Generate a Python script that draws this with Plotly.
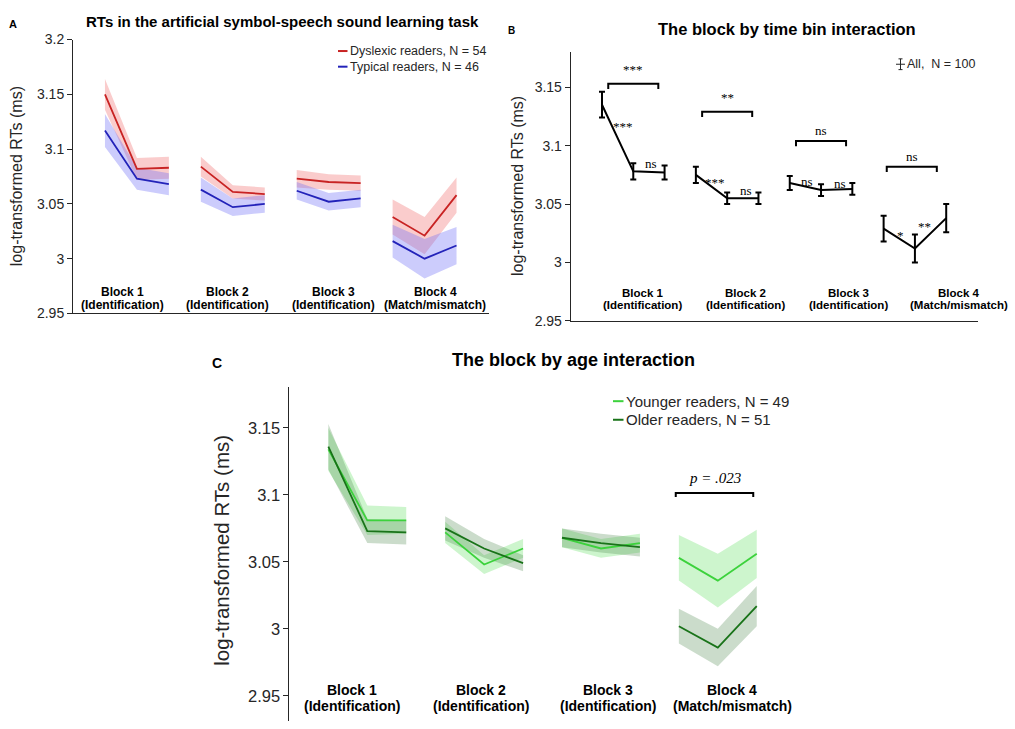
import plotly.graph_objects as go

W, H = 1015, 729

# ---------------- data ----------------
x_pos = [1, 2, 3, 4, 5, 6, 7, 8, 9, 10, 11, 12]
block_groups = [[0, 1, 2], [3, 4, 5], [6, 7, 8], [9, 10, 11]]
block_titles = ["Block 1", "Block 2", "Block 3", "Block 4"]
block_subs = ["(Identification)", "(Identification)", "(Identification)", "(Match/mismatch)"]

# Panel A
dys_mean = [3.150, 3.082, 3.083, 3.084, 3.061, 3.059, 3.073, 3.070, 3.069, 3.038, 3.021, 3.058]
dys_se = [0.014, 0.010, 0.010, 0.009, 0.006, 0.006, 0.008, 0.007, 0.007, 0.016, 0.017, 0.016]
typ_mean = [3.117, 3.073, 3.068, 3.063, 3.047, 3.050, 3.062, 3.052, 3.055, 3.016, 3.000, 3.012]
typ_se = [0.015, 0.010, 0.010, 0.011, 0.008, 0.008, 0.008, 0.008, 0.008, 0.015, 0.018, 0.017]

# Panel B
all_mean = [3.135, 3.078, 3.077, 3.075, 3.055, 3.055, 3.068, 3.062, 3.063, 3.029, 3.012, 3.038]
all_se = [0.011, 0.007, 0.006, 0.007, 0.005, 0.005, 0.006, 0.005, 0.005, 0.011, 0.012, 0.012]
brk_x0 = [1.2, 4.2, 7.2, 10.1]
brk_x1 = [2.8, 5.8, 8.8, 11.7]
brk_y = [3.153, 3.129, 3.104, 3.082]
brk_txt = ["***", "**", "ns", "ns"]
pair_x = [1.68, 2.58, 4.62, 5.59, 7.55, 8.6, 10.54, 11.31]
pair_y = [3.1197, 3.085, 3.0717, 3.0614, 3.0697, 3.0675, 3.026, 3.0336]
pair_txt = ["***", "ns", "***", "ns", "ns", "ns", "*", "**"]

# Panel C
young_mean = [3.134, 3.081, 3.081, 3.072, 3.048, 3.060, 3.068, 3.060, 3.064, 3.053, 3.036, 3.056]
young_se = [0.016, 0.011, 0.010, 0.008, 0.007, 0.007, 0.007, 0.007, 0.007, 0.017, 0.020, 0.018]
old_mean = [3.136, 3.073, 3.072, 3.075, 3.060, 3.049, 3.068, 3.064, 3.061, 3.002, 2.986, 3.017]
old_se = [0.017, 0.009, 0.009, 0.009, 0.007, 0.006, 0.007, 0.007, 0.007, 0.013, 0.014, 0.015]
c_brk = (9.92, 11.91, 3.1015)
c_brk_txt = "p = .023"

yt_A = [2.95, 3.0, 3.05, 3.1, 3.15, 3.2]
yt_A_txt = ["2.95", "3", "3.05", "3.1", "3.15", "3.2"]
yt_BC = [2.95, 3.0, 3.05, 3.1, 3.15]
yt_BC_txt = ["2.95", "3", "3.05", "3.1", "3.15"]

# ---------------- styles ----------------
SANS = "Liberation Sans, Arial, Helvetica, sans-serif"
SERIF = "Liberation Serif, Times New Roman, serif"
AXC = "#262626"
red_line, red_fill = "rgb(200,35,35)", "rgba(242,110,110,0.35)"
blue_line, blue_fill = "rgb(35,35,185)", "rgba(110,110,245,0.35)"
young_line, young_fill = "rgb(60,210,60)", "rgba(100,225,100,0.32)"
old_line, old_fill = "rgb(25,115,25)", "rgba(70,130,70,0.28)"


def px(x):
    return x / W


def py(y):
    return 1 - y / H


fig = go.Figure()


def add_band(xa, ya, mean, se, fill):
    for g in block_groups:
        xs = [x_pos[i] for i in g]
        up = [mean[i] + se[i] for i in g]
        lo = [mean[i] - se[i] for i in g]
        fig.add_trace(go.Scatter(x=xs + xs[::-1], y=up + lo[::-1], fill="toself",
                                 fillcolor=fill, line=dict(width=0), mode="lines",
                                 hoverinfo="skip", showlegend=False, xaxis=xa, yaxis=ya))


def add_line(xa, ya, mean, color, width=1.8):
    for g in block_groups:
        fig.add_trace(go.Scatter(x=[x_pos[i] for i in g], y=[mean[i] for i in g],
                                 mode="lines", line=dict(color=color, width=width),
                                 showlegend=False, xaxis=xa, yaxis=ya))


# Panel A
add_band("x", "y", dys_mean, dys_se, red_fill)
add_band("x", "y", typ_mean, typ_se, blue_fill)
add_line("x", "y", dys_mean, red_line)
add_line("x", "y", typ_mean, blue_line)

# Panel B
for g in block_groups:
    fig.add_trace(go.Scatter(x=[x_pos[i] for i in g], y=[all_mean[i] for i in g],
                             mode="lines", line=dict(color="black", width=2),
                             error_y=dict(type="data", array=[all_se[i] for i in g],
                                          color="black", thickness=2, width=3),
                             showlegend=False, xaxis="x2", yaxis="y2"))

# Panel C
add_band("x3", "y3", young_mean, young_se, young_fill)
add_band("x3", "y3", old_mean, old_se, old_fill)
add_line("x3", "y3", young_mean, young_line, 1.8)
add_line("x3", "y3", old_mean, old_line, 1.8)


# ---------------- axes ----------------
def xax(dom, anchor, line=True):
    return dict(domain=dom, range=[0, 13], anchor=anchor, showline=line, linecolor=AXC,
                linewidth=1, showticklabels=False, ticks="", showgrid=False, zeroline=False,
                fixedrange=True)


def yax(dom, rng, anchor, tv, tt, fs):
    return dict(domain=dom, range=rng, anchor=anchor, showline=True, linecolor=AXC, linewidth=1,
                ticks="outside", ticklen=5, tickcolor=AXC, tickvals=tv, ticktext=tt,
                tickfont=dict(family=SANS, size=fs, color=AXC), showgrid=False, zeroline=False,
                fixedrange=True)


fig.update_layout(
    width=W, height=H, margin=dict(l=0, r=0, t=0, b=0),
    paper_bgcolor="white", plot_bgcolor="white", showlegend=False,
    xaxis=xax([px(73), px(488.5)], "y"),
    yaxis=yax([py(312.3), py(32.3)], [2.95, 3.2], "x", yt_A, yt_A_txt, 14),
    xaxis2=xax([px(570.7), px(977.5)], "y2"),
    yaxis2=yax([py(320), py(45)], [2.95, 3.1801], "x2", yt_BC, yt_BC_txt, 14),
    xaxis3=xax([px(289.4), px(795.7)], "y3", line=False),
    yaxis3=yax([0, py(387.3)], [2.9312, 3.1807], "x3", yt_BC, yt_BC_txt, 16.5),
)

ann = []
shapes = []


def txt(x, y, s, size, bold=False, family=SANS, xref="paper", yref="paper", angle=0,
        xanchor="center", yanchor="middle", color="black", italic=False):
    if bold:
        s = "<b>" + s + "</b>"
    if italic:
        s = "<i>" + s + "</i>"
    ann.append(dict(x=x, y=y, xref=xref, yref=yref, text=s, showarrow=False,
                    font=dict(family=family, size=size, color=color), textangle=angle,
                    xanchor=xanchor, yanchor=yanchor))


def pline(x0, y0, x1, y1, color, width):
    shapes.append(dict(type="line", xref="paper", yref="paper", x0=px(x0), y0=py(y0),
                       x1=px(x1), y1=py(y1), line=dict(color=color, width=width)))


# titles and panel letters
txt(px(282), py(14), "RTs in the artificial symbol-speech sound learning task", 15, bold=True)
txt(px(787), py(21), "The block by time bin interaction", 16.5, bold=True)
txt(px(573), py(360), "The block by age interaction", 18, bold=True)
txt(px(13), py(16), "A", 11, bold=True)
txt(px(512), py(23), "B", 10, bold=True)
txt(px(217), py(363), "C", 14, bold=True)

# y-axis titles
ytitle = "log-transformed RTs (ms)"
txt(px(16), py(172), ytitle, 16, angle=-90, color=AXC)
txt(px(517), py(182), ytitle, 16, angle=-90, color=AXC)
txt(px(222), py(555), ytitle, 20.5, angle=-90, color=AXC)

# block labels
lab_A = [1.55, 4.83, 8.14, 11.34]
lab_B = [2.3, 5.59, 8.88, 12.4]
lab_C = [1.62, 4.91, 8.19, 11.37]
for i in range(4):
    txt(lab_A[i], 2.970, block_titles[i], 12, bold=True, xref="x", yref="y")
    txt(lab_A[i], 2.958, block_subs[i], 12, bold=True, xref="x", yref="y")
    txt(lab_B[i], 2.9743, block_titles[i], 11.5, bold=True, xref="x2", yref="y2")
    txt(lab_B[i], 2.9634, block_subs[i], 11.5, bold=True, xref="x2", yref="y2")
    txt(lab_C[i], 2.9544, block_titles[i], 14, bold=True, xref="x3", yref="y3")
    txt(lab_C[i], 2.9427, block_subs[i], 14, bold=True, xref="x3", yref="y3")

# legends A and C (short coloured line samples + text)
txt(px(348), py(44), "Dyslexic readers, N = 54", 12.5, xanchor="left", color=AXC)
txt(px(348), py(60), "Typical readers, N = 46", 12.5, xanchor="left", color=AXC)
pline(338, 44, 347.5, 44, red_line, 2)
pline(338, 60, 347.5, 60, blue_line, 2)
txt(px(624), py(402), "Younger readers, N = 49", 15, xanchor="left", color=AXC)
txt(px(624), py(421), "Older readers, N = 51", 15, xanchor="left", color=AXC)
pline(613, 402, 623.5, 402, young_line, 2)
pline(613, 421, 623.5, 421, old_line, 2)

# legend B (error-bar icon)
txt(px(905), py(57.5), "All,  N = 100", 12.5, xanchor="left", color=AXC)
for (x0, y0, x1, y1) in [(900.5, 52, 900.5, 63), (898.5, 52, 902.5, 52), (898.5, 63, 902.5, 63),
                         (896, 57.5, 905, 57.5)]:
    pline(x0, y0, x1, y1, AXC, 1)

# brackets B
d = 0.0045
for i in range(4):
    shapes.append(dict(type="path", xref="x2", yref="y2",
                       path="M %f,%f L %f,%f L %f,%f L %f,%f" % (brk_x0[i], brk_y[i] - d, brk_x0[i], brk_y[i],
                                                          brk_x1[i], brk_y[i], brk_x1[i], brk_y[i] - d),
                       line=dict(color="black", width=2)))
    is_star = brk_txt[i].startswith("*")
    txt((brk_x0[i] + brk_x1[i]) / 2, brk_y[i] + (0.004 if is_star else 0.001), brk_txt[i],
        13, family=SERIF, xref="x2", yref="y2", yanchor="bottom", color="black")
for i in range(len(pair_x)):
    is_star = pair_txt[i].startswith("*")
    txt(pair_x[i], pair_y[i] - (0.003 if is_star else 0), pair_txt[i], 13,
        family=SERIF, xref="x2", yref="y2", color="black")

# bracket C
cx0, cx1, cy = c_brk
dc = 0.003
shapes.append(dict(type="path", xref="x3", yref="y3",
                   path="M %f,%f L %f,%f L %f,%f L %f,%f" % (cx0, cy - dc, cx0, cy, cx1, cy, cx1, cy - dc),
                   line=dict(color="black", width=2)))
txt((cx0 + cx1) / 2, cy + 0.004, c_brk_txt, 15, family=SERIF, italic=True, xref="x3", yref="y3",
    yanchor="bottom", color="black")

fig.update_layout(annotations=ann, shapes=shapes)
fig.write_html("out.html")
